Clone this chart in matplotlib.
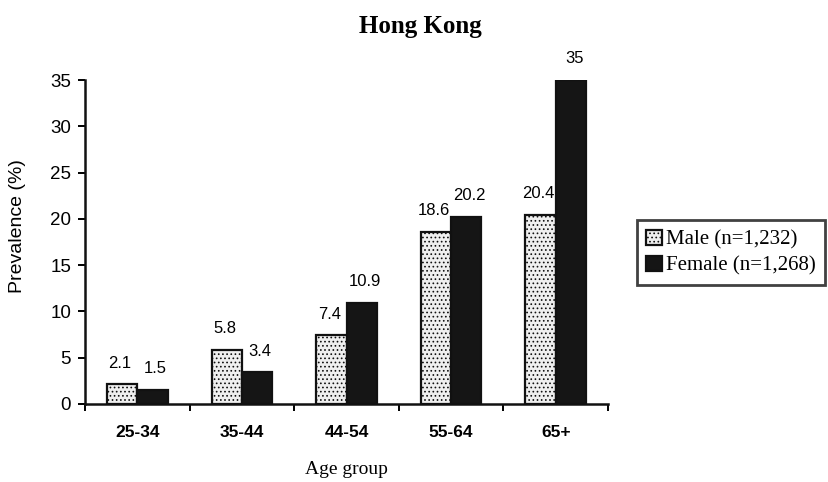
import matplotlib
matplotlib.use("Agg")
import matplotlib.pyplot as plt
import numpy as np

age_groups = ["25-34", "35-44", "44-54", "55-64", "65+"]
male = [2.1, 5.8, 7.4, 18.6, 20.4]
female = [1.5, 3.4, 10.9, 20.2, 35]
male_label = "Male (n=1,232)"
female_label = "Female (n=1,268)"
yticks = [0, 5, 10, 15, 20, 25, 30, 35]

plt.rcParams['hatch.color'] = '#4a4a4a'
plt.rcParams['hatch.linewidth'] = 0.7

fig = plt.figure(figsize=(8.29, 4.82), dpi=100)
ax = fig.add_axes([0.1025, 0.162, 0.631, 0.672])

x = np.arange(len(age_groups))
w = 0.29
mb = ax.bar(x - w / 2, male, w, color="#efefef", edgecolor="#111111",
            hatch="....", linewidth=1.6, label=male_label)
fb = ax.bar(x + w / 2, female, w, color="#151515", edgecolor="#111111",
            linewidth=1.6, label=female_label)

sans = "Liberation Sans"
serif = "Liberation Serif"
for xi, v in zip(x, male):
    ax.text(xi - w / 2 - 0.02, v + 1.5, f"{v:g}", ha="center", va="bottom",
            fontsize=12, family=sans)
for xi, v in zip(x, female):
    ax.text(xi + w / 2 + 0.03, v + 1.5, f"{v:g}", ha="center", va="bottom",
            fontsize=12, family=sans)

ax.set_xlim(-0.5, len(age_groups) - 0.5)
ax.set_ylim(0, 35)
ax.set_yticks(yticks)
ax.set_yticklabels([str(t) for t in yticks], fontsize=13.5, family=sans)
ax.set_xticks(np.arange(len(age_groups) + 1) - 0.5, minor=False)
ax.set_xticklabels([])
ax.set_xticks(x, minor=True)
ax.set_xticklabels(age_groups, minor=True, fontsize=12.5, family=sans,
                   fontweight="bold")
ax.tick_params(axis="x", which="minor", length=0, pad=15)
ax.tick_params(axis="x", which="major", length=5, width=1.4, direction="out")
ax.tick_params(axis="y", length=5, width=1.4, direction="out", pad=5)

for s in ["top", "right"]:
    ax.spines[s].set_visible(False)
for s in ["left", "bottom"]:
    ax.spines[s].set_linewidth(1.8)
    ax.spines[s].set_color("#111111")

ax.set_xlabel("Age group", fontsize=14, family=serif, labelpad=15)
ax.set_ylabel("Prevalence (%)", fontsize=14, family=sans)
ax.yaxis.set_label_coords(-0.113, 0.55)
fig.text(0.507, 0.944, "Hong Kong", ha="center", va="center",
         fontsize=18, fontweight="bold", family=serif)

leg = fig.legend(handles=[mb, fb], loc="center left",
                 bbox_to_anchor=(0.768, 0.476), frameon=True, fancybox=False,
                 prop={"family": serif, "size": 15}, handlelength=0.75,
                 handleheight=0.75, handletextpad=0.2, borderpad=0.45,
                 borderaxespad=0.0, labelspacing=0.3, edgecolor="#111111")
leg.get_frame().set_linewidth(2.0)

fig.savefig("out.png", dpi=100, facecolor="white")
